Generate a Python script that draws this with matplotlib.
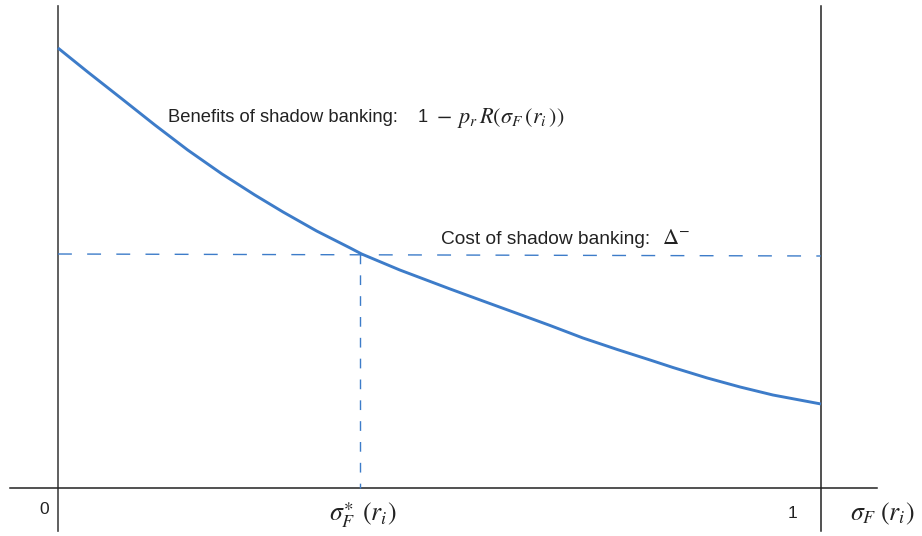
import matplotlib
matplotlib.use("Agg")
import matplotlib.pyplot as plt

plt.rcParams['font.family'] = ['Liberation Sans', 'DejaVu Sans']
plt.rcParams['mathtext.fontset'] = 'stix'

# Benefit curve, x = sigma_F in [0, 1]
sigma_f = [0.0, 0.039, 0.084, 0.127, 0.170, 0.215, 0.258, 0.295, 0.339,
           0.383, 0.398, 0.448, 0.514, 0.557, 0.602, 0.645, 0.688, 0.733,
           0.776, 0.806, 0.851, 0.894, 0.937, 1.0]
benefit = [4.40, 4.16, 3.89, 3.63, 3.38, 3.14, 2.93, 2.76, 2.57,
           2.40, 2.34, 2.18, 1.99, 1.87, 1.745, 1.625, 1.50, 1.385,
           1.28, 1.205, 1.10, 1.01, 0.93, 0.84]
cost_level = 2.34
sigma_star = 0.396

curve_color = '#3d7cc9'
axis_color = '#222222'
text_color = '#222222'

fig = plt.figure(figsize=(9.22, 5.36), dpi=100)
ax = fig.add_axes([0, 0, 1, 1])
ax.set_xlim(-0.076, 1.1324)
ax.set_ylim(-0.48, 4.88)
ax.axis('off')

# axes lines
ax.plot([0, 0], [-0.43, 4.82], color='#444444', lw=1.2)
ax.plot([1, 1], [-0.43, 4.82], color=axis_color, lw=1.1)
ax.plot([-0.063, 1.073], [0, 0], color=axis_color, lw=1.1)

# curve
ax.plot(sigma_f, benefit, color=curve_color, lw=2.1,
        solid_joinstyle='round', solid_capstyle='butt')

# dashed lines
ax.plot([0, 1], [cost_level, cost_level - 0.02], color=curve_color, lw=1.0,
        dashes=(10, 11))
ax.plot([sigma_star, sigma_star], [cost_level, 0], color=curve_color, lw=1.0,
        dashes=(7, 8))

# labels
ax.text(0.144, 3.70, 'Benefits of shadow banking:',
        fontsize=13.2, va='center', ha='left', color=text_color)
ax.text(0.471, 3.70, '1',
        fontsize=13.2, va='center', ha='left', color=text_color)
ax.text(0.495, 3.70, r'$-\;\, p_r\,R(\sigma_F\,(r_i\,))$',
        fontsize=16, va='center', ha='left', color=text_color)
ax.text(0.502, 2.48, 'Cost of shadow banking:',
        fontsize=13.8, va='center', ha='left', color=text_color)
ax.text(0.791, 2.50, r'$\Delta^{-}$',
        fontsize=16, va='center', ha='left', color=text_color)
ax.text(-0.018, -0.22, '0', fontsize=12.5, ha='center', va='center', color=text_color)
ax.text(0.963, -0.26, '1', fontsize=12.5, ha='center', va='center', color=text_color)
ax.text(sigma_star + 0.004, -0.27, r'$\sigma_F^{\ast}\;\,(r_i)$', fontsize=18.5,
        ha='center', va='center', color=text_color)
ax.text(1.080, -0.26, r'$\sigma_F\;(r_i)$', fontsize=18.5,
        ha='center', va='center', color=text_color)

fig.savefig('out.png', dpi=100)
